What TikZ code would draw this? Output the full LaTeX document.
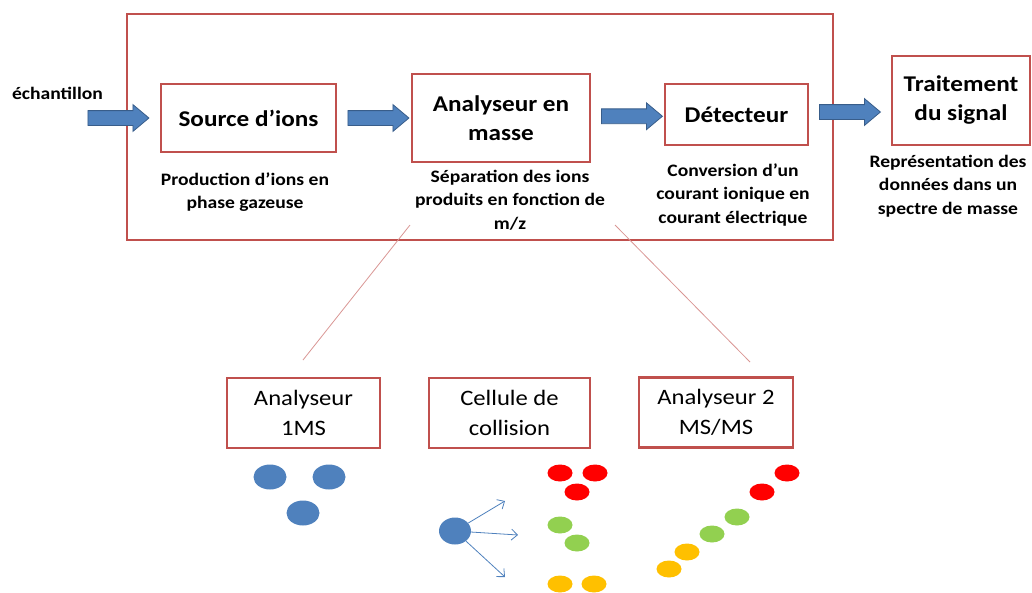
\documentclass[tikz,border=0pt]{standalone}
\usepackage{fontspec}
\setmainfont{Carlito}[FakeStretch=1.12]
\usetikzlibrary{shapes,arrows,arrows.meta,calc}

\definecolor{boxred}{HTML}{C0504D}
\definecolor{arrowblue}{HTML}{4F81BD}
\definecolor{arrowedge}{HTML}{385D8A}
\definecolor{linkpink}{HTML}{D99694}
\definecolor{ionred}{HTML}{FF0000}
\definecolor{iongreen}{HTML}{92D050}
\definecolor{ionyellow}{HTML}{FFC000}

\begin{document}
\begin{tikzpicture}[x=1pt, y=-1pt]
		% Define the styles
		\tikzstyle{stage}=[rectangle, draw=boxred, line width=1.6pt, text centered, align=center, inner sep=0pt, font=\bfseries\fontsize{22.5}{29}\selectfont]
		\tikzstyle{note}=[align=center, inner sep=0pt, anchor=north, font=\bfseries\fontsize{17.5}{23.5}\selectfont]
		\tikzstyle{part}=[rectangle, draw=boxred, line width=2.4pt, align=center, inner sep=0pt, minimum height=70pt, font=\fontsize{22}{29.5}\selectfont]
		\tikzstyle{blockarrow}=[single arrow, fill=arrowblue, draw=arrowedge, line width=0.8pt, inner xsep=0pt, inner ysep=7pt, minimum width=26pt, minimum height=61pt, single arrow head extend=6pt, single arrow tip angle=80]
		\tikzstyle{link}=[draw=linkpink, line width=0.8pt]
		\tikzstyle{bigion}=[ellipse, fill=arrowblue, inner sep=0pt, minimum width=33pt, minimum height=25pt]
		\tikzstyle{ion}=[ellipse, inner sep=0pt, minimum width=25pt, minimum height=17pt]
		\tikzstyle{fragment}=[-{Straight Barb[length=6pt, width=11pt]}, draw=arrowblue, line width=0.8pt]

		\useasboundingbox (0,0) rectangle (1032,592);

		% Define nodes
		\node (spectro) [rectangle, draw=boxred, line width=1.6pt, minimum width=706pt, minimum height=226pt] at (480,127) {};
		\node (sample) [anchor=base, inner sep=0pt, font=\bfseries\fontsize{17.5}{20}\selectfont] at (57.5,99) {échantillon};
		\node (src) [stage, minimum width=175pt, minimum height=68pt] at (248.5,118) {Source d’ions};
		\node (ana) [stage, minimum width=178pt, minimum height=88pt] at (501,118) {Analyseur en\\masse};
		\node (det) [stage, minimum width=143pt, minimum height=61pt] at (736.5,114.5) {Détecteur};
		\node (trt) [stage, minimum width=138pt, minimum height=89pt] at (961,100.5) {Traitement\\du signal};

		\node (srcnote) [note] at (245,172.5) {Production d’ions en\\phase gazeuse};
		\node (ananote) [note] at (510,169.5) {Séparation des ions\\produits en fonction de\\m/z};
		\node (detnote) [note] at (733,163.5) {Conversion d’un\\courant ionique en\\courant électrique};
		\node (trtnote) [note] at (948,154.5) {Représentation des\\données dans un\\spectre de masse};

		% Define block arrows
		\node (arr1) [blockarrow] at (114,118) {};
		\node (arr2) [blockarrow] at ($(src.east)!0.5!(ana.west)$) {};
		\node (arr3) [blockarrow] at ($(ana.east)!0.5!(det.west)$) {};
		\node (arr4) [blockarrow] at (845.5,112) {};

		% Tandem MS parts
		\node (ms1) [part, minimum width=153pt] at (303.5,413) {Analyseur\\1MS};
		\node (cell) [part, minimum width=161pt] at (509.5,413) {Cellule de\\collision};
		\node (ms2) [part, minimum width=154pt] at (716,412.5) {Analyseur 2\\MS/MS};

		\coordinate (zoomA) at (410,225);
		\coordinate (zoomB) at (303,360);
		\coordinate (zoomC) at (615,225);
		\coordinate (zoomD) at (750,362);
		\draw[link] (zoomA) -- (zoomB);
		\draw[link] (zoomC) -- (zoomD);

		% Ions
		\foreach \x/\y [count=\i] in {270/477, 329/477, 303/513}
			\node (precursor\i) [bigion] at (\x,\y) {};
		\node (parent) [bigion, minimum width=32pt, minimum height=27pt] at (455,531) {};
		\coordinate (frag1) at (505,501);
		\coordinate (frag2) at (518,535);
		\coordinate (frag3) at (505,577);
		\draw[fragment] (parent) -- (frag1);
		\draw[fragment] (parent) -- (frag2);
		\draw[fragment] (parent) -- (frag3);

		\foreach \x/\y/\c [count=\i] in {560/473/ionred, 595/473/ionred, 577/492/ionred, 560/525/iongreen, 577/543/iongreen, 560/584/ionyellow, 594/584/ionyellow}
			\node (product\i) [ion, fill=\c] at (\x,\y) {};
		\foreach \x/\y/\c [count=\i] in {787/473/ionred, 762/492/ionred, 737/517/iongreen, 712/534/iongreen, 687/552/ionyellow, 669/569/ionyellow}
			\node (sorted\i) [ion, fill=\c] at (\x,\y) {};
	\end{tikzpicture}
\end{document}
